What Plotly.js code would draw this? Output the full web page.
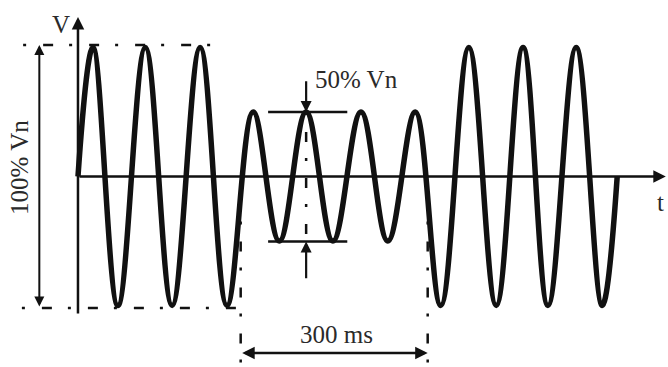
<!DOCTYPE html>
<html><head><meta charset="utf-8">
<script src="https://cdn.plot.ly/plotly-3.0.1.min.js"></script>
<style>html,body{margin:0;padding:0;background:#fff}#chart{width:668px;height:367px}</style>
</head><body><div id="chart"></div>
<script>
// Waveform turning points: time (ms) and voltage (fraction of Vn)
const tMs = [0, 24, 64, 108, 151, 196, 239, 281, 323, 366, 409, 454, 497, 541, 582, 627, 671, 714, 754, 799, 841, 865];
const vPu = [0, 1, -1, 1, -1, 1, -1, 0.5, -0.5, 0.5, -0.5, 0.5, -0.5, 0.5, -1, 1, -1, 1, -1, 1, -1, 0];
// Sag window (ms) and levels
const sagWindow = [261, 561];
const fullLevel = [1, -1];
const halfLevel = [0.5, -0.5];
const halfPeakMs = 366;
// Texts
const txtV = 'V', txtT = 't', txtFull = '100% Vn', txtHalf = '50% Vn', txtWindow = '300 ms';

const ink = '#111', txtCol = '#2a2a2a';
const font = {family: 'Liberation Serif, Times New Roman, serif', size: 25, color: txtCol};
const dd = '3px,17px,10px,16px';
const edge = 1.02;

const trace = {x: tMs, y: vPu, type: 'scatter', mode: 'lines',
  line: {color: ink, width: 5.5, shape: 'spline', smoothing: 1.1}, hoverinfo: 'skip'};

const L = (x0, y0, x1, y1, w, dash) => ({type: 'line', xref: 'x', yref: 'y', x0, y0, x1, y1,
  line: {color: ink, width: w, dash: dash || 'solid'}});

const shapes = [
  L(-88, fullLevel[0]*edge, 220, fullLevel[0]*edge, 2.5, dd),
  L(-90, fullLevel[1]*edge, sagWindow[0], fullLevel[1]*edge, 2.5, dd),
  L(sagWindow[0], -0.35, sagWindow[0], -1.5, 2.5, dd),
  L(sagWindow[1], -0.35, sagWindow[1], -1.5, 2.5, dd),
  L(305, halfLevel[0], 432, halfLevel[0], 2.5),
  L(305, halfLevel[1]*1.01, 432, halfLevel[1]*1.01, 2.5),
  L(halfPeakMs, halfLevel[0], halfPeakMs, halfLevel[1], 2.5, dd)
];

const A = (x, y, ax, ay, w, side) => ({x, y, ax, ay, xref: 'x', yref: 'y', axref: 'x', ayref: 'y',
  text: '', showarrow: true, arrowhead: 2, arrowsize: 1, arrowwidth: w, arrowcolor: ink,
  arrowside: side || 'end', standoff: 0, startstandoff: 0});
const T = (x, y, text, extra) => Object.assign({x, y, xref: 'x', yref: 'y', text, showarrow: false, font}, extra || {});

const annotations = [
  A(0, 1.236, 0, -1.074, 2.5),
  A(943, 0, 0, 0, 2.5),
  A(-62, fullLevel[0]*edge, -62, fullLevel[1]*edge, 2, 'end+start'),
  A(sagWindow[1], -1.368, sagWindow[0], -1.368, 2.5, 'end+start'),
  A(halfPeakMs, halfLevel[0], halfPeakMs, 0.75, 2.2),
  A(halfPeakMs, halfLevel[1]*1.01, halfPeakMs, -0.80, 2.2),
  T(-27, 1.18, txtV),
  T(934, -0.2, txtT),
  T(-93, 0.066, txtFull, {textangle: -90}),
  T(377, 0.748, txtHalf, {xanchor: 'left'}),
  T(414, -1.225, txtWindow)
];

const layout = {
  width: 668, height: 367, margin: {l: 0, r: 0, t: 0, b: 0},
  paper_bgcolor: '#fff', plot_bgcolor: '#fff', showlegend: false,
  xaxis: {range: [-125.1, 946.5], visible: false, fixedrange: true},
  yaxis: {range: [-1.477, 1.368], visible: false, fixedrange: true},
  shapes, annotations
};
Plotly.newPlot('chart', [trace], layout, {staticPlot: true, displayModeBar: false});
</script></body></html>
